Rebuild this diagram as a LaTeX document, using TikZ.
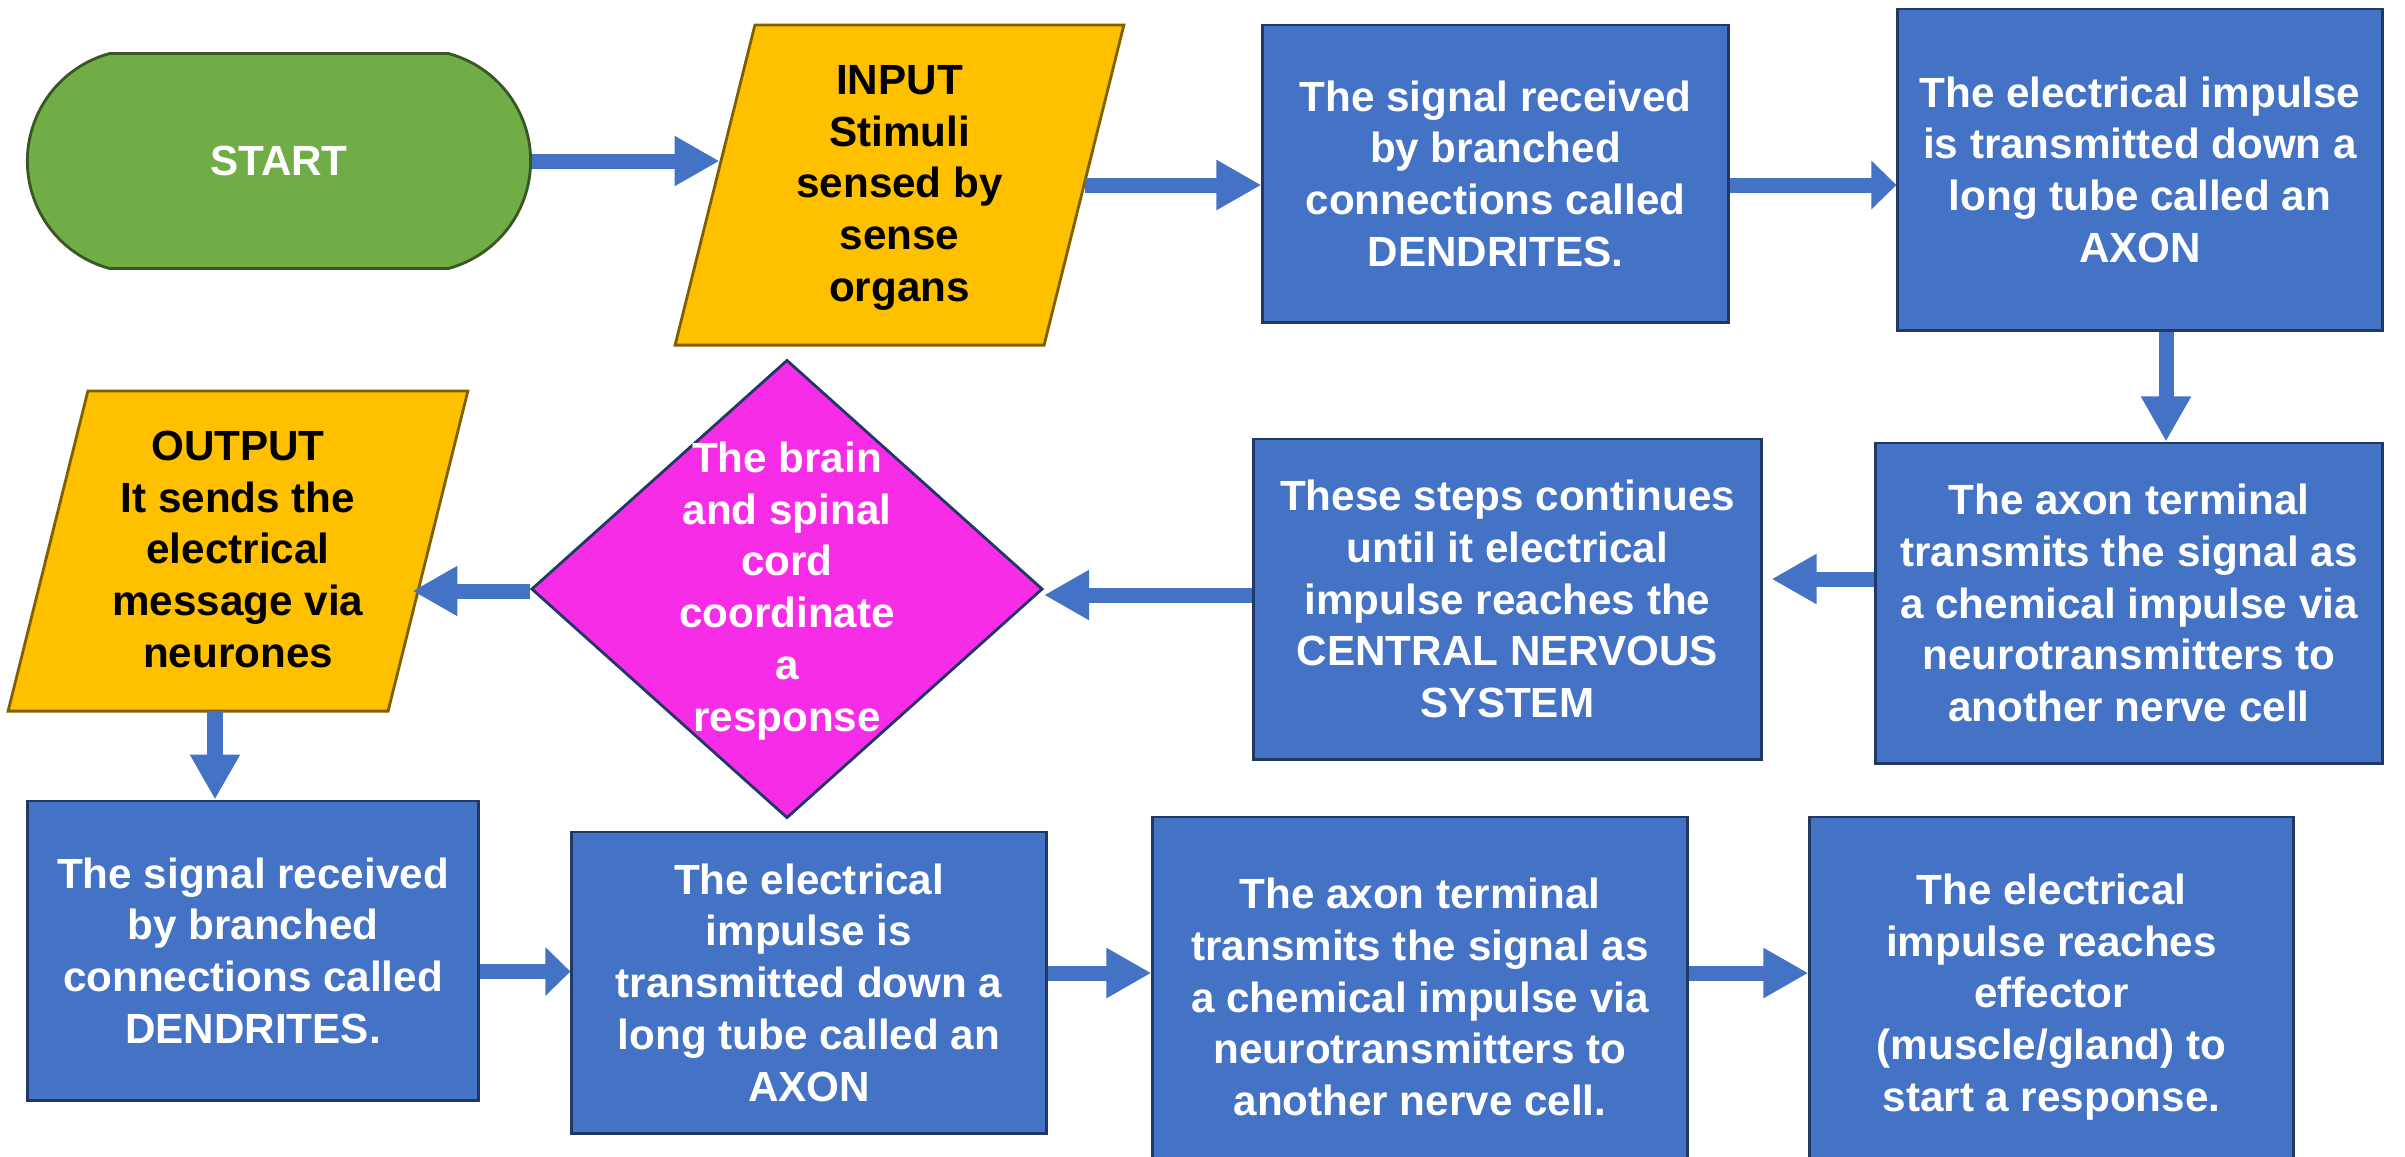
\documentclass[tikz,border=0pt]{standalone}
\usepackage{fontspec}
\setmainfont{Liberation Sans}
\usetikzlibrary{arrows.meta,positioning,shapes.geometric,shapes.misc,calc}
\definecolor{flowblue}{RGB}{68,114,196}
\definecolor{flownavy}{RGB}{32,56,100}
\definecolor{flowgreen}{RGB}{112,173,71}
\definecolor{flowdkgreen}{RGB}{56,87,35}
\definecolor{flowgold}{RGB}{255,192,0}
\definecolor{flowbrown}{RGB}{127,96,0}
\definecolor{flowpink}{RGB}{247,44,230}
\newcommand{\flowtext}[1]{\smash{\makebox[0pt]{\raisebox{-3.7pt}{\begin{tabular}{@{}c@{}}#1\end{tabular}}}}}

\begin{document}
\begin{tikzpicture}[x=0.01cm, y=-0.01cm,
  every node/.style={font=\fontsize{12}{14.7}\selectfont\bfseries, align=center, inner sep=0pt},
  stepbox/.style={draw=flownavy, line width=0.8pt, fill=flowblue, text=white},
  iobox/.style={trapezium, trapezium left angle=76, trapezium right angle=104, inner ysep=1.6cm,
    draw=flowbrown, line width=0.8pt, fill=flowgold, text=black},
  startbox/.style={rounded rectangle, rounded rectangle arc length=150, draw=flowdkgreen, line width=0.8pt,
    fill=flowgreen, text=white},
  brainbox/.style={diamond, draw=flownavy, line width=0.8pt, fill=flowpink, text=white},
  flow/.style={-{Triangle[width=0.47cm,length=0.45cm]}, line width=0.15cm, draw=flowblue},
  shorthead/.style={-{Triangle[width=0.47cm,length=0.25cm]}}]
\useasboundingbox (0,0) rectangle (2405,1156);

\node[startbox, minimum width=5.03cm, minimum height=2.15cm] (start) at (279,161) {START};
\node[iobox, inner xsep=1.445cm] (input) at (899.5,185) {\flowtext{INPUT\\Stimuli\\sensed by\\sense\\organs}};
\node[stepbox, minimum width=4.65cm, minimum height=2.97cm] (dend1) at (1495.5,173.5) {The signal received\\by branched\\connections called\\DENDRITES.};
\node[stepbox, minimum width=4.84cm, minimum height=3.21cm] (axon1) at (2140,169.5) {The electrical impulse\\is transmitted down a\\long tube called an\\AXON};
\node[stepbox, minimum width=5.06cm, minimum height=3.2cm] (term1) at (2129,603) {The axon terminal\\transmits the signal as\\a chemical impulse via\\neurotransmitters to\\another nerve cell};
\node[stepbox, minimum width=5.07cm, minimum height=3.2cm] (cns) at (1507.5,599) {These steps continues\\until it electrical\\impulse reaches the\\CENTRAL NERVOUS\\SYSTEM};
\node[brainbox, minimum width=5.11cm, minimum height=4.58cm] (brain) at (787,589) {\flowtext{The brain\\and spinal\\cord\\coordinate\\a\\response}};
\node[iobox, inner xsep=1.5cm] (output) at (238,551) {\flowtext{OUTPUT\\It sends the\\electrical\\message via\\neurones}};
\node[stepbox, minimum width=4.5cm, minimum height=2.99cm] (sig2) at (253,950.5) {The signal received\\by branched\\connections called\\DENDRITES.};
\node[stepbox, minimum width=4.74cm, minimum height=3.01cm] (tube2) at (809,982.5) {The electrical\\impulse is\\transmitted down a\\long tube called an\\AXON};
\node[stepbox, minimum width=5.34cm, minimum height=3.6cm] (term2) at (1420,997) {The axon terminal\\transmits the signal as\\a chemical impulse via\\neurotransmitters to\\another nerve cell.};
\node[stepbox, minimum width=4.83cm, minimum height=3.6cm] (effect2) at (2051.5,997) {The electrical\\impulse reaches\\effector\\(muscle/gland) to\\start a response.};

\draw[flow] (start.east) -- ($(start.east -| input.west)+(6,0)$);
\draw[flow] (input.east) -- (input.east -| dend1.west);
\draw[flow, shorthead] (dend1.east |- input.east) -- (axon1.west |- input.east);
\draw[flow] ($(axon1.south)+(26,0)$) -- ($(term1.north)+(37,0)$);
\draw[flow] ($(term1.west)+(0,-24)$) -- ($(cns.east)+(9,-20)$);
\draw[flow] ($(cns.west)+(0,-4)$) -- ($(brain.east)+(0,6)$);
\draw[flow] ($(brain.west)+(0,2)$) -- ($(output.east)+(-17,40)$);
\draw[flow] ($(output.center)+(-23,160)$) -- ($(sig2.north)+(-38,0)$);
\draw[flow, shorthead] ($(sig2.east)+(0,21)$) -- ($(tube2.west)+(0,-11)$);
\draw[flow] ($(tube2.east)+(0,-9.5)$) -- ($(term2.west)+(0,-24)$);
\draw[flow] ($(term2.east)+(0,-24)$) -- ($(effect2.west)+(0,-24)$);
\end{tikzpicture}
\end{document}
